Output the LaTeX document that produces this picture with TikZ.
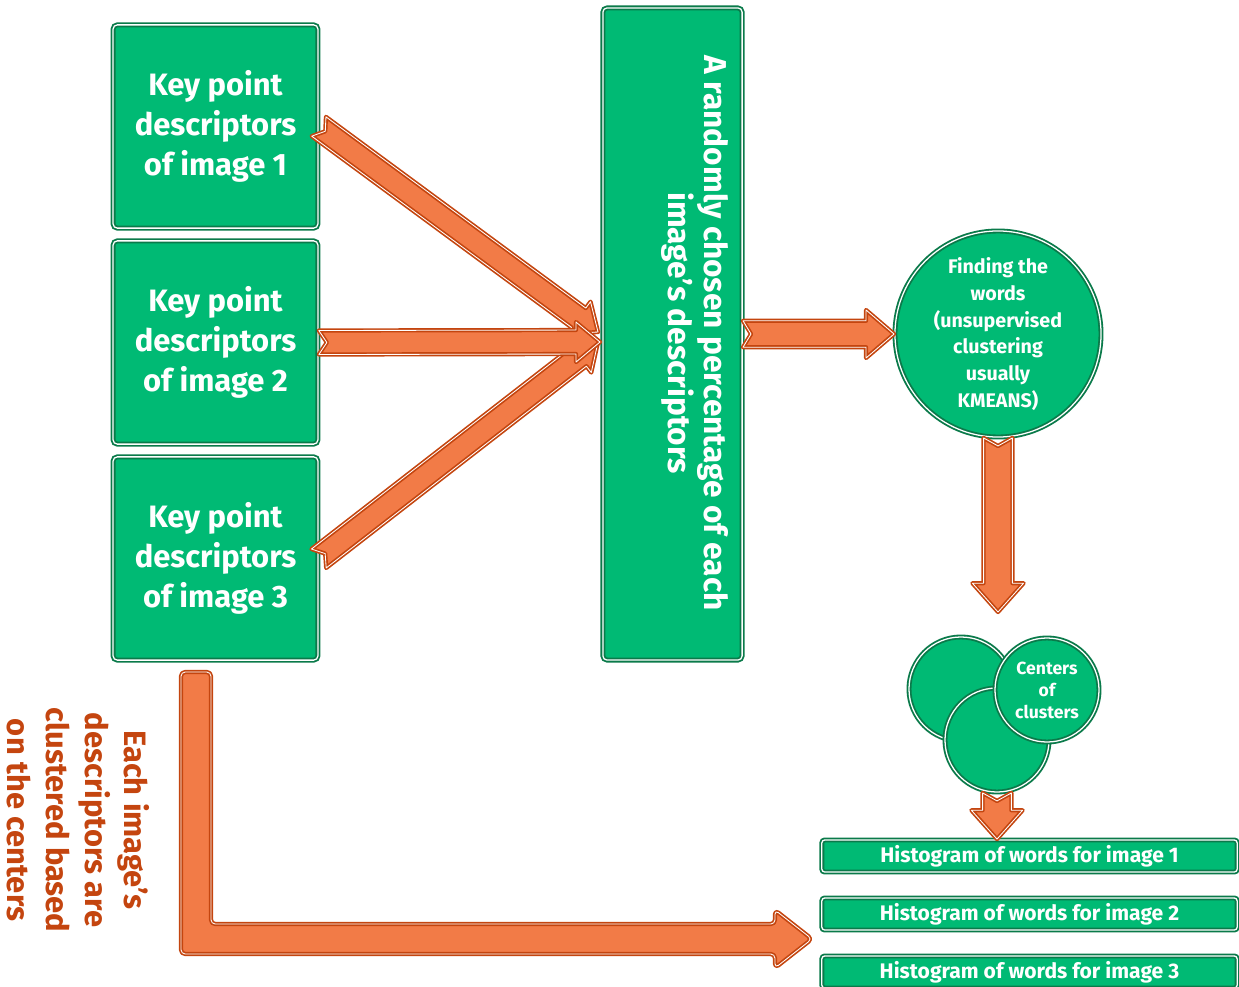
\documentclass[tikz,border=0pt]{standalone}
\usepackage{fontspec}
\setmainfont{Fira Sans}
\usepackage{xcolor}
\definecolor{kgreen}{HTML}{00BA74}
\definecolor{kgreenline}{HTML}{0A7A4A}
\definecolor{korange}{HTML}{F27B47}
\definecolor{korangeline}{HTML}{C4450F}
\usetikzlibrary{positioning,calc}
\tikzset{
  gbox/.style  ={rectangle, rounded corners=3pt, fill=kgreen, draw=kgreenline, double=white,
                 double distance=0.9pt, line width=1.3pt, text=white, align=center, inner sep=0pt},
  kpbox/.style ={gbox, minimum width=5.12cm, minimum height=5.08cm,
                 font=\fontsize{22}{28.5}\selectfont\bfseries},
  tallbox/.style={gbox, minimum width=3.48cm, minimum height=16.3cm},
  histbox/.style={gbox, rounded corners=2pt, minimum width=10.38cm, minimum height=0.8cm,
                 font=\fontsize{15}{18}\selectfont\bfseries},
  gcirc/.style ={gbox, circle, minimum size=5.15cm},
  ccirc/.style ={gbox, circle, minimum size=2.6cm, font=\fontsize{12.5}{15.6}\selectfont\bfseries},
  barr/.style  ={fill=korange, draw=korangeline, double=white, double distance=0.6pt,
                 line width=1.2pt, line join=round},
  rtext/.style ={rotate=-90, align=center, text=white, font=\fontsize{22.5}{25.6}\selectfont\bfseries},
  otext/.style ={rotate=-90, align=center, text=korangeline, font=\fontsize{22}{27.7}\selectfont\bfseries},
}
% block arrow: [style]{from}{to}{shaft half width}{head half width}{head length}
\newcommand{\barrow}[6][]{%
  \coordinate (bh) at ($(#3)!#6!(#2)$);
  \draw[barr,#1] ($(#2)!#4!90:(#3)$) -- ($(bh)!#4!90:(#3)$) -- ($(bh)!#5!90:(#3)$)
    -- (#3) -- ($(bh)!#5!-90:(#3)$) -- ($(bh)!#4!-90:(#3)$) -- ($(#2)!#4!-90:(#3)$)
    -- ($(#2)!0.2cm!(#3)$) -- cycle;}

\begin{document}
\begin{tikzpicture}[x=0.025cm, y=-0.025cm]
  \useasboundingbox (0,0) rectangle (1239,987);
  % descriptors of the three images
  \node[kpbox] (box1) at (215.5,126.5) {Key point\\descriptors\\of image 1};
  \node[kpbox] (box2) at (215.5,342.5) {Key point\\descriptors\\of image 2};
  \node[kpbox] (box3) at (215.5,558.5) {Key point\\descriptors\\of image 3};
  % random sample
  \node[tallbox] (tall) at (672.5,334) {};
  \node[rtext] (talltxt) at (695,333) {A randomly chosen percentage of each\\image’s descriptors};
  % clustering
  \node[gcirc, font=\fontsize{14}{19}\selectfont\bfseries] (finding) at (998,334)
    {Finding the\\words\\(unsupervised\\clustering\\usually\\KMEANS)};
  \node[ccirc] (clA) at (961,689) {};
  \node[ccirc] (clC) at (997,740) {};
  \node[ccirc] (clB) at (1047,690) {Centers\\of\\clusters};
  % histograms
  \node[histbox] (hist1) at (1029.5,856) {Histogram of words for image 1};
  \node[histbox] (hist2) at (1029.5,914) {Histogram of words for image 2};
  \node[histbox] (hist3) at (1029.5,972) {Histogram of words for image 3};
  \node[otext] (note) at (78,820) {Each image’s\\descriptors are\\clustered based\\on the centers};
  % arrows
  \coordinate (in1) at (598,332);
  \coordinate (in2) at (600,342);
  \coordinate (in3) at (598,342);
  \coordinate (down1) at (998,612);
  \coordinate (h1top) at (clC.south |- hist1.north);
  \barrow{box1.east}{in1}{0.3cm}{0.5cm}{0.6cm}
  \barrow{box3.east}{in3}{0.3cm}{0.5cm}{0.6cm}
  \barrow{box2.east}{in2}{0.3cm}{0.5cm}{0.6cm}
  \barrow{tall.east}{finding.west}{0.33cm}{0.6cm}{0.7cm}
  \barrow{finding.south}{down1}{0.36cm}{0.64cm}{0.72cm}
  \barrow{clC.south}{h1top}{0.36cm}{0.64cm}{0.72cm}
  \coordinate (ltop) at (196,672);
  \coordinate (lcorner) at (196,939);
  \coordinate (ltip) at (812,939);
  \draw[barr, rounded corners=3pt] ($(ltop)+(-15,0)$) -- ($(lcorner)+(-15,15)$) -- ($(ltip)+(-37,15)$)
    -- ($(ltip)+(-37,29)$) -- (ltip) -- ($(ltip)+(-37,-29)$) -- ($(ltip)+(-37,-15)$)
    -- ($(lcorner)+(15,-15)$) -- ($(ltop)+(15,0)$) -- cycle;
\end{tikzpicture}
\end{document}
